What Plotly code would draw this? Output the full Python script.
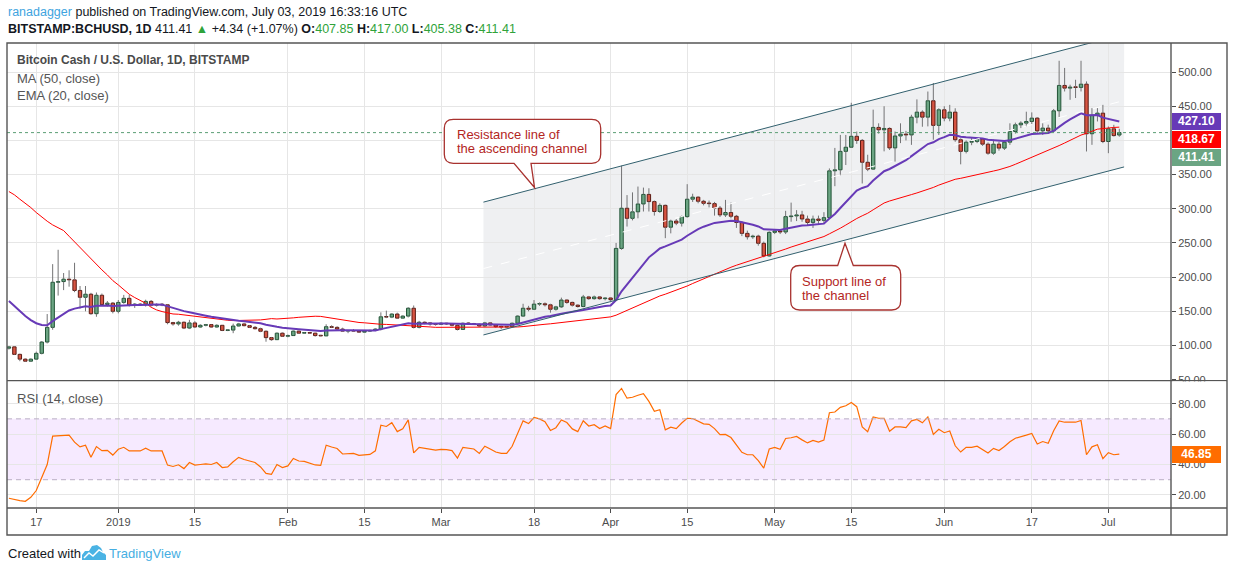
import numpy as np
import pandas as pd
import plotly.graph_objects as go

# ---------------- data ----------------
first_day = "2018-12-12"

opens = [
    96, 98, 87, 80, 77, 80, 88.5, 105, 126.5, 192.5, 193.5, 197, 196, 180.5, 170.5, 175, 146.5, 173.5, 160, 162,
    150, 163, 169, 159, 160.5, 159.5, 164.5, 159, 160, 159.5, 133.5, 131.5, 134, 125.5, 133, 127, 129.5, 130.5, 127, 129.5,
    122, 122.5, 128.5, 131.5, 129, 126.5, 124.5, 120.8, 111.5, 108.5, 118,
    113.5, 114.5, 121, 118, 118.5, 118, 114.5, 114, 127.5, 126.5, 124, 121, 121.5, 121, 119.5, 121, 122, 124, 142, 141.5,
    146, 140, 143, 154.5, 126.5, 134, 133, 131.5,
    131, 132.5, 131.5, 129.5, 123.5, 132.5, 132, 131, 128.5, 133, 130, 127.5, 127, 127.5, 132.5, 143, 154.5, 153, 160.5, 161,
    159.5, 153, 156.5, 166.5, 163, 159, 157, 171, 168.5, 171, 168.5,
    169.5, 167, 242, 300.8, 286, 295.5, 307, 321, 310.5, 296, 305, 273, 282, 279, 288.5, 314, 317, 311, 308, 307.5,
    301, 291, 294.5, 289, 280, 264, 259, 260, 249.5, 231,
    265.5, 267.5, 266, 288.5, 289.5, 291, 285, 280, 285, 283, 287, 355.5, 357, 384, 390, 406, 400, 368, 358, 419,
    415.5, 417.5, 389, 406.5, 409.2, 408, 434, 441.4, 434, 458, 422,
    444.8, 432.6, 441.4, 401, 384, 397.4, 398.5, 402.3, 394.5, 381.3, 394.5, 388.7, 397.4, 413, 422.8, 425.3, 427.7, 432.6, 414, 418,
    414, 443.3, 480.4, 476.5, 478, 477.5, 482.3, 409.7, 436.5, 439.9,
    398.4, 417, 407.85,
]
highs = [
    99, 99, 88, 81, 81, 91, 106.5, 146, 219, 240, 206, 210, 221, 187, 187, 177, 177.5, 176, 165, 163.5,
    166.5, 174, 174, 162, 162, 167, 166.5, 161.5, 162, 160, 134.5, 136, 135, 137.5, 135.5, 131, 131.5, 131, 131, 130,
    123.5, 132, 133, 133, 130, 128.5, 126, 122, 112.5, 119, 119,
    116, 122, 121.5, 119.5, 119, 118.5, 115.5, 131, 129.5, 128, 126, 122, 124, 122, 122, 123, 125, 148.5, 151, 147,
    148, 144, 156, 158.5, 136, 135, 133.5, 132.5,
    134, 133, 132.5, 130.5, 133.5, 134, 133, 132, 134.5, 134, 131, 129, 128.5, 133.5, 144, 161, 158, 166.5, 163, 163,
    161, 158, 170, 167, 164, 160, 174, 172.5, 173, 172, 170.5,
    170, 250, 363, 320, 324, 332.5, 331, 330, 312, 308, 306, 284, 285, 290, 336, 322, 318, 313, 312, 310,
    304, 313, 309, 291, 282, 268, 262, 262, 252, 267,
    270, 269, 297, 309, 298, 297, 290, 290, 290, 295, 359, 389, 408, 408, 455, 413, 402, 379, 445, 425,
    450, 419, 413, 425, 414, 437.5, 460, 444, 471.5, 484, 447,
    450, 452, 447, 403, 400, 404, 404, 403, 397, 401, 398, 399, 425, 426, 428, 442, 441, 434, 425, 423,
    446, 516.5, 506, 481.5, 488.7, 516.5, 486.3, 447.2, 447.2, 452,
    420.4, 422.8, 417.0,
]
lows = [
    94, 86, 77, 76, 76, 79, 87, 103, 123, 173, 181, 186, 178, 154, 150, 145, 142, 158, 157, 147,
    147, 161, 157, 155, 158.5, 157, 157, 157, 157.5, 131, 129, 129, 124, 124, 126, 126, 128, 126, 126, 121,
    121, 118, 128, 128, 125.5, 123.5, 119.5, 105.5, 107, 108, 113,
    112, 114, 117, 117, 117, 113, 113.5, 114, 125.5, 123, 120, 118, 120, 118.5, 119, 120, 121, 122, 140, 140,
    139, 139.5, 141, 125, 125, 131, 129, 129,
    130, 130, 128, 122, 123, 130, 130, 127.5, 127.5, 129, 126, 124, 126, 127, 131, 142, 150, 152, 158, 157,
    148, 151, 155, 161, 157, 155.5, 156, 167, 167, 167, 166,
    165, 165, 240, 274, 283, 286, 296, 296, 290, 294, 257, 264, 276, 274, 287, 310, 308, 305, 302, 290,
    288, 288, 286, 272, 260, 255, 256, 246, 229, 230,
    263, 263, 263, 281, 282, 281, 276, 272, 277, 279, 285, 333, 349, 364, 389, 395, 337, 355, 357, 410,
    384, 386, 369, 396, 400, 393.5, 425, 420, 420.5, 401, 408,
    428, 428, 398, 365, 381, 393, 396, 392, 379, 379, 385, 386, 393.5, 410, 418, 420, 424, 411, 408, 410,
    412, 432.6, 471.6, 459.4, 462, 471.6, 383.8, 393.5, 427.7, 396,
    381.3, 405.7, 405.38,
]
closes = [
    98, 87, 80, 77, 80, 88.5, 105, 126.5, 192.5, 193.5, 197, 196, 180.5, 170.5, 175, 146.5, 173.5, 160, 162, 150,
    163, 169, 159, 160.5, 159.5, 164.5, 159, 160, 159.5, 133.5, 131.5, 134, 125.5, 133, 127, 129.5, 130.5, 127, 129.5, 122,
    122.5, 128.5, 131.5, 129, 126.5, 124.5, 120.8, 111.5, 108.5, 118, 113.5,
    114.5, 121, 118, 118.5, 118, 114.5, 114, 127.5, 126.5, 124, 121, 121.5, 121, 119.5, 121, 122, 124, 142, 141.5, 146,
    140, 143, 154.5, 126.5, 134, 133, 131.5, 131,
    132.5, 131.5, 129.5, 123.5, 132.5, 132, 131, 128.5, 133, 130, 127.5, 127, 127.5, 132.5, 143, 154.5, 153, 160.5, 161, 159.5,
    153, 156.5, 166.5, 163, 159, 157, 171, 168.5, 171, 168.5, 169.5,
    167, 242, 300.8, 286, 295.5, 307, 321, 310.5, 296, 305, 273, 282, 279, 288.5, 314, 317, 311, 308, 307.5, 301,
    291, 294.5, 289, 280, 264, 259, 260, 249.5, 231, 265.5,
    267.5, 266, 288.5, 289.5, 291, 285, 280, 285, 283, 287, 355.5, 357, 384, 390, 406, 400, 368, 358, 419, 415.5,
    417.5, 389, 406.5, 409.2, 408, 434, 441.4, 434, 458, 422, 444.8,
    432.6, 441.4, 401, 384, 397.4, 398.5, 402.3, 394.5, 381.3, 394.5, 388.7, 397.4, 413, 422.8, 425.3, 427.7, 432.6, 414, 418, 414,
    443.3, 480.4, 476.5, 478, 477.5, 482.3, 409.7, 436.5, 439.9, 398.4,
    417, 407.07, 411.41,
]
rsi14 = [
    17.8, 16.9, 16.2, 15.8, 18.4, 22.9, 31.8, 40.0, 58.7, 58.9, 59.3, 59.3, 54.7, 51.6, 52.7, 44.7, 51.8, 49.1, 49.3, 46.2,
    50.0, 51.3, 48.9, 48.9, 48.9, 50.7, 48.9, 48.9, 48.9, 39.6, 38.7, 39.8, 37.3, 41.3, 39.6, 40.0, 40.4, 40.0, 41.3, 38.0,
    38.4, 41.8, 44.7, 43.3, 42.2, 41.3, 38.4, 34.2, 33.6, 40.0, 38.0,
    39.1, 44.0, 42.3, 42.1, 40.8, 39.7, 39.4, 52.7, 51.5, 50.5, 46.9, 47.1, 47.3, 46.0, 46.2, 46.6, 49.0, 65.8, 65.0, 67.5,
    61.6, 63.5, 69.3, 47.6, 51.3, 50.6, 50.0, 49.4,
    50.0, 49.8, 49.1, 44.2, 51.3, 50.9, 50.2, 47.3, 52.0, 50.2, 48.2, 47.3, 47.3, 52.0, 60.5, 68.7, 66.9, 70.9, 70.0, 68.2,
    62.4, 64.2, 69.3, 67.6, 63.4, 61.6, 68.7, 65.3, 66.2, 63.6, 65.3,
    63.6, 86.0, 90.0, 83.6, 84.2, 85.5, 86.5, 81.5, 75.0, 76.0, 62.8, 64.5, 63.6, 67.3, 70.4, 70.2, 68.4, 66.7, 66.4, 63.6,
    59.6, 59.8, 57.7, 53.0, 48.0, 46.4, 46.4, 42.6, 37.6, 50.2,
    51.2, 50.0, 57.1, 57.6, 58.4, 56.2, 54.2, 55.8, 54.7, 56.0, 74.0, 74.5, 77.6, 78.6, 80.7, 78.0, 64.7, 61.6, 71.3, 70.4,
    70.4, 61.8, 64.7, 64.7, 64.2, 68.7, 69.6, 67.4, 71.3, 59.8, 63.1,
    60.9, 62.0, 52.3, 48.2, 51.3, 51.3, 52.0, 50.0, 47.6, 50.6, 49.2, 51.8, 55.0, 57.3, 58.1, 59.3, 60.4, 53.5, 55.1, 54.0,
    62.2, 68.7, 67.8, 67.8, 67.8, 68.9, 46.4, 51.6, 53.0, 43.8,
    47.8, 46.4, 46.85,
]
# MA(50) for the first 49 days (needs history before the window)
ma50_head = [
    325.2, 320.4, 314.0, 308.2, 301.8, 294.5, 287.7, 281.8, 276.4, 272.5,
    268.1, 259.8, 251.6, 243.7, 235.0, 226.2, 217.9, 210.6, 203.2, 194.9,
    188.6, 182.3, 174.9, 170.1, 165.7, 161.8, 155.9, 152.0, 149.6, 147.6,
    146.1, 145.7, 144.7, 143.7, 142.7, 141.3, 140.3, 138.8, 137.8, 137.4,
    136.9, 136.4, 136.4, 136.9, 136.9, 136.9, 137.4, 138.3, 139.3,
]
ema20_first = 165.0          # EMA(20) value on the first visible day
ema_label_value = 427.10
ma_label_value = 418.67
rsi_label_value = 46.85

tick_dates = ["2018-12-17", "2019-01-01", "2019-01-15", "2019-02-01", "2019-02-15", "2019-03-01", "2019-03-18",
              "2019-04-01", "2019-04-15", "2019-05-01", "2019-05-15", "2019-06-01", "2019-06-17", "2019-07-01"]
tick_text = ["17", "2019", "15", "Feb", "15", "Mar", "18", "Apr", "15", "May", "15", "Jun", "17", "Jul"]
price_ticks = [50, 100, 150, 200, 250, 300, 350, 400, 450, 500]
price_hidden_labels = [400]   # covered by the value boxes in the picture
rsi_ticks = [20, 40, 60, 80]
rsi_levels = [30, 70]

channel_dates = ["2019-03-08 18:00", "2019-07-03 21:00"]
channel_upper = [309.7, 555.5]
channel_lower = [115.4, 361.2]

# ---------------- derived series ----------------
n = len(closes)
assert len(opens) == n and len(highs) == n and len(lows) == n and len(rsi14) == n
dates = pd.date_range(first_day, periods=n, freq="D")
o = np.array(opens, float); h = np.array(highs, float)
l = np.array(lows, float); c = np.array(closes, float)

alpha = 2.0 / 21.0
ema20 = [ema20_first]
for v in c[1:]:
    ema20.append(ema20[-1] + alpha * (v - ema20[-1]))
ma50 = list(ma50_head) + [c[i - 49:i + 1].mean() for i in range(49, n)]

# ---------------- geometry helpers (pixel -> paper) ----------------
W, H = 1234, 572
PL, PR, PT, PB = 7, 1171, 43, 508
def px(x):
    return (x - PL) / (PR - PL)
def py(y):
    return (PB - y) / (PB - PT)

price_dom = [py(380.0), 1.0]
rsi_dom = [0.0, py(381.3)]
price_rng = [49.5, 542.5]
rsi_rng = [11.4, 94.7]
x_rng = ["2018-12-11 15:36", "2019-07-12 10:48"]

UP_FILL, UP_LINE = "#6ba583", "#225437"
DN_FILL, DN_LINE = "#d75442", "#5b1a13"
WICK = "#737375"
FONT = "Liberation Sans, Arial, sans-serif"
AXC = "#4c4c4c"
GRID = "#e6e6e6"

up = c >= o
body_lo = np.minimum(o, c)
body_hi = np.maximum(o, c)
body_h = np.maximum(body_hi - body_lo, 0.9)

fig = go.Figure()

# wicks (upper and lower segments, not crossing the body)
wx, wy = [], []
for t, hi, lo, bh, bl in zip(dates, h, l, body_hi, body_lo):
    wx += [t, t, None, t, t, None]
    wy += [hi, bh, None, bl, lo, None]
fig.add_trace(go.Scatter(x=wx, y=wy, mode="lines", line=dict(color=WICK, width=1),
                         hoverinfo="skip", xaxis="x", yaxis="y"))

fig.add_trace(go.Bar(
    x=dates, y=body_h, base=body_lo, width=0.62 * 86400000,
    marker=dict(color=[UP_FILL if u else DN_FILL for u in up],
                line=dict(color=[UP_LINE if u else DN_LINE for u in up], width=1)),
    xaxis="x", yaxis="y", hoverinfo="skip"))

fig.add_trace(go.Scatter(x=dates, y=ma50, mode="lines", line=dict(color="#ff0000", width=1),
                         xaxis="x", yaxis="y", hoverinfo="skip"))
fig.add_trace(go.Scatter(x=dates, y=ema20, mode="lines", line=dict(color="#673ab7", width=2),
                         xaxis="x", yaxis="y", hoverinfo="skip"))

fig.add_trace(go.Scatter(x=dates, y=rsi14, mode="lines", line=dict(color="#ff6d00", width=1.2),
                         xaxis="x2", yaxis="y2", hoverinfo="skip"))

shapes = []
# channel shading + lines + dashed median
def dpath(d):
    return pd.Timestamp(d).strftime("%Y-%m-%d_%H:%M:%S")
cd0, cd1 = dpath(channel_dates[0]), dpath(channel_dates[1])
shapes.append(dict(type="path", xref="x", yref="y", layer="below",
                   path=f"M {cd0},{channel_upper[0]} L {cd1},{channel_upper[1]} L {cd1},{channel_lower[1]} L {cd0},{channel_lower[0]} Z",
                   fillcolor="rgba(100,110,130,0.10)", line=dict(width=0)))
for yy in (channel_upper, channel_lower):
    shapes.append(dict(type="line", xref="x", yref="y", x0=channel_dates[0], x1=channel_dates[1],
                       y0=yy[0], y1=yy[1], line=dict(color="#32606e", width=1)))
shapes.append(dict(type="line", xref="x", yref="y", x0=channel_dates[0], x1=channel_dates[1],
                   y0=(channel_upper[0] + channel_lower[0]) / 2, y1=(channel_upper[1] + channel_lower[1]) / 2,
                   line=dict(color="white", width=1, dash="dash")))

# last price dotted line
shapes.append(dict(type="line", xref="x domain", yref="y", x0=0, x1=1, y0=closes[-1], y1=closes[-1],
                   line=dict(color="#5a9e74", width=1, dash="dot")))

# RSI band and levels
shapes.append(dict(type="rect", xref="x2 domain", yref="y2", x0=0, x1=1, y0=rsi_levels[0], y1=rsi_levels[1],
                   fillcolor="rgba(153,21,255,0.09)", line=dict(width=0), layer="below"))
for lv in rsi_levels:
    shapes.append(dict(type="line", xref="x2 domain", yref="y2", x0=0, x1=1, y0=lv, y1=lv,
                       line=dict(color="#b9aec4", width=1, dash="5px,4px")))

# callouts
def callout(x0, y0, x1, y1, r, base_a, base_b, tip, bottom=True):
    P = lambda x, y: f"{px(x):.5f},{py(y):.5f}"
    if bottom:
        s = (f"M {P(x0 + r, y0)} L {P(x1 - r, y0)} Q {P(x1, y0)} {P(x1, y0 + r)} L {P(x1, y1 - r)} "
             f"Q {P(x1, y1)} {P(x1 - r, y1)} L {P(base_b, y1)} L {P(*tip)} L {P(base_a, y1)} "
             f"L {P(x0 + r, y1)} Q {P(x0, y1)} {P(x0, y1 - r)} L {P(x0, y0 + r)} Q {P(x0, y0)} {P(x0 + r, y0)} Z")
    else:
        s = (f"M {P(x0 + r, y0)} L {P(base_a, y0)} L {P(*tip)} L {P(base_b, y0)} L {P(x1 - r, y0)} "
             f"Q {P(x1, y0)} {P(x1, y0 + r)} L {P(x1, y1 - r)} Q {P(x1, y1)} {P(x1 - r, y1)} "
             f"L {P(x0 + r, y1)} Q {P(x0, y1)} {P(x0, y1 - r)} L {P(x0, y0 + r)} Q {P(x0, y0)} {P(x0 + r, y0)} Z")
    return dict(type="path", xref="paper", yref="paper", path=s, fillcolor="white",
                line=dict(color="#a8322f", width=1.3), layer="above")
shapes.append(callout(444.3, 119.3, 600.7, 163.3, 9, 514, 531, (534.5, 187.5), bottom=True))
shapes.append(callout(790.7, 265.5, 900.7, 310, 9, 837.7, 853.3, (845, 243.3), bottom=False))

# frame
FR = "#555555"
xr_edge = px(1227)
shapes += [
    dict(type="rect", xref="paper", yref="paper", x0=0, x1=xr_edge, y0=py(535), y1=1, line=dict(color=FR, width=1.4)),
    dict(type="line", xref="paper", yref="paper", x0=0, x1=xr_edge, y0=py(380.6), y1=py(380.6), line=dict(color=FR, width=1.4)),
    dict(type="line", xref="paper", yref="paper", x0=0, x1=xr_edge, y0=0, y1=0, line=dict(color=FR, width=1.4)),
    dict(type="line", xref="paper", yref="paper", x0=1, x1=1, y0=py(535), y1=1, line=dict(color=FR, width=1.4)),
    dict(type="rect", xref="paper", yref="paper", x0=px(1172.5), x1=px(1226), y0=py(388), y1=py(381.6),
         fillcolor="white", line=dict(width=0), layer="above"),
]

# tradingview logo
def ppath(pts):
    return "M " + " L ".join(f"{px(a):.5f},{py(b):.5f}" for a, b in pts) + " Z"
shapes.append(dict(type="path", xref="paper", yref="paper", fillcolor="#4ab3e4", line=dict(width=0),
                   path=ppath([(82, 560), (82, 555), (85, 551), (89, 551), (92, 546), (97, 545), (101, 548),
                               (103, 552), (106, 555), (106, 560)])))
shapes.append(dict(type="path", xref="paper", yref="paper", line=dict(color="white", width=1.4),
                   path="M " + " L ".join(f"{px(a):.5f},{py(b):.5f}" for a, b in
                                          [(84, 558), (89, 553), (93, 556), (99, 550), (104, 553)])))

ann = []
def text(x, y, s, size=12, color="#333", anchor="left", bold=False, family=FONT, **kw):
    ann.append(dict(xref="paper", yref="paper", x=px(x), y=py(y), xanchor=anchor, yanchor="middle",
                    text=(f"<b>{s}</b>" if bold else s), showarrow=False,
                    font=dict(size=size, color=color, family=family), **kw))

GREEN = "#2fa33a"
chg = closes[-1] - closes[-2]
pct = chg / closes[-2] * 100
text(6, 12, '<span style="color:#3ea4e0">ranadagger</span> published on TradingView.com, July 03, 2019 16:33:16 UTC',
     size=12.5, color="#131722")
text(6, 29, (f'<b>BITSTAMP:BCHUSD, 1D</b> {closes[-1]:.2f} <span style="color:{GREEN}">▲</span> '
             f'{chg:+.2f} ({pct:+.2f}%) '
             f'<b>O:</b><span style="color:{GREEN}">{opens[-1]:.2f}</span> '
             f'<b>H:</b><span style="color:{GREEN}">{highs[-1]:.2f}</span> '
             f'<b>L:</b><span style="color:{GREEN}">{lows[-1]:.2f}</span> '
             f'<b>C:</b><span style="color:{GREEN}">{closes[-1]:.2f}</span>'),
     size=12.5, color="#131722")
text(15, 60.5, "Bitcoin Cash / U.S. Dollar, 1D, BITSTAMP", size=12, color="#4a4a4a", bold=True)
text(15, 78, "MA (50, close)", size=13, color="#555555")
text(15, 95, "EMA (20, close)", size=13, color="#555555")
text(15, 398, "RSI (14, close)", size=13, color="#555555")

text(455, 134.5, "Resistance line of", size=13, color="#b3261e")
text(455, 148.5, "the ascending channel", size=13, color="#b3261e")
text(800, 281, "Support line of", size=13, color="#b3261e")
text(800, 295, "the channel", size=13, color="#b3261e")

text(6, 553, "Created with", size=13, color="#131722")
text(107, 553, "TradingView", size=13, color="#45aee2")

# value boxes on the right axes
def ybox(v, rng, dom):
    return dom[0] + (v - rng[0]) / (rng[1] - rng[0]) * (dom[1] - dom[0])
def vbox(ypaper, s, bg):
    ann.append(dict(xref="paper", yref="paper", x=px(1171.5), y=ypaper, xanchor="left", yanchor="middle",
                    text=f"<b>{s}</b>", showarrow=False, bgcolor=bg, width=45, height=12.5, borderpad=2,
                    borderwidth=0, align="center", font=dict(size=12, color="white", family=FONT)))
y_ema = ybox(ema_label_value, price_rng, price_dom)
step = 17.6 / (PB - PT)
vbox(y_ema, f"{ema_label_value:.2f}", "#673ab7")
vbox(y_ema - step, f"{ma_label_value:.2f}", "#ff0000")
vbox(y_ema - 2 * step, f"{closes[-1]:.2f}", "#6ba583")
vbox(ybox(rsi_label_value, rsi_rng, rsi_dom), f"{rsi_label_value:.2f}", "#ff6d00")

axis_font = dict(size=11, color=AXC, family=FONT)
fig.update_layout(
    width=W, height=H, margin=dict(l=PL, r=W - PR, t=PT, b=H - PB),
    paper_bgcolor="white", plot_bgcolor="white", showlegend=False, barmode="overlay",
    shapes=shapes, annotations=ann,
    xaxis=dict(domain=[0, 1], anchor="y", type="date", range=x_rng, tickvals=tick_dates, ticktext=tick_text,
               showticklabels=False, showgrid=True, gridcolor=GRID, gridwidth=1, zeroline=False, showline=False,
               ticks=""),
    xaxis2=dict(domain=[0, 1], anchor="y2", type="date", matches="x", range=x_rng, tickvals=tick_dates,
                ticktext=tick_text, showgrid=True, gridcolor=GRID, gridwidth=1, zeroline=False, showline=False,
                ticks="outside", ticklen=4, tickcolor=AXC, tickfont=axis_font),
    yaxis=dict(domain=price_dom, anchor="x", side="right", range=price_rng, tickvals=price_ticks,
               ticktext=["" if v in price_hidden_labels else f"{v:.2f}" for v in price_ticks],
               showgrid=True, gridcolor=GRID, zeroline=False,
               showline=False, ticks="outside", ticklen=4, tickcolor=AXC, tickfont=axis_font),
    yaxis2=dict(domain=rsi_dom, anchor="x2", side="right", range=rsi_rng, tickvals=rsi_ticks,
                ticktext=[f"{v:.2f}" for v in rsi_ticks], showgrid=True, gridcolor=GRID, zeroline=False,
                showline=False, ticks="outside", ticklen=4, tickcolor=AXC, tickfont=axis_font),
)

fig.write_html("out.html", config={"displayModeBar": False},
               post_script="document.body.style.margin='0px';document.body.style.overflow='hidden';")
